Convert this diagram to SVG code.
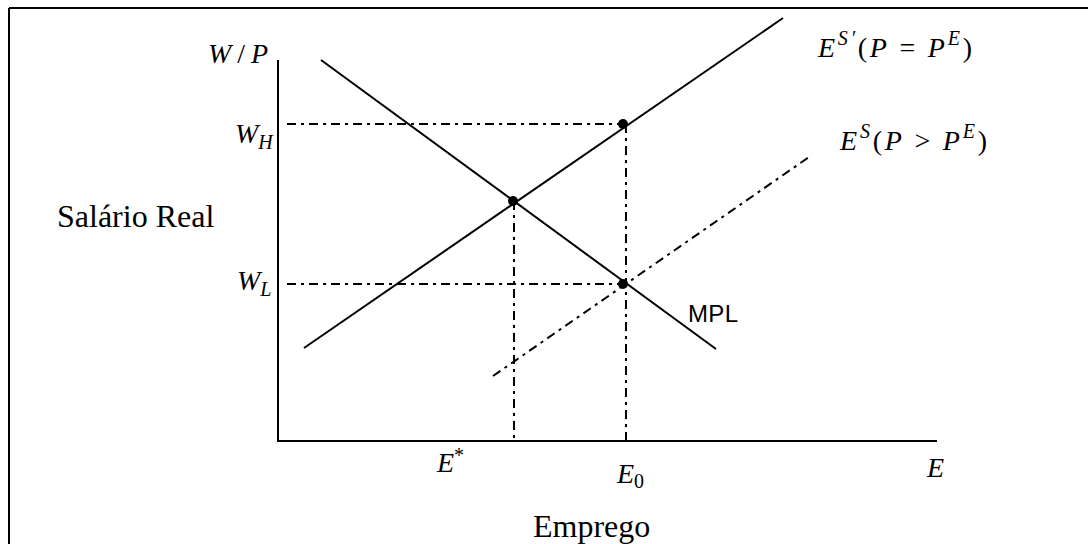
<svg xmlns="http://www.w3.org/2000/svg" width="1088" height="544" viewBox="0 0 1088 544">
<style>
.ln{stroke:#000;stroke-width:2;fill:none}
.dd{stroke:#000;stroke-width:2;fill:none;stroke-dasharray:9 5 3 5}
.m{font-family:"Liberation Serif","Times New Roman",serif;font-style:italic;font-size:28px;fill:#000}
.sm{font-size:20px}
.up{font-style:normal}
.t{font-family:"Liberation Serif","Times New Roman",serif;font-size:32px;fill:#000}
.s{font-family:"Liberation Sans",Arial,sans-serif;font-size:24px;fill:#000}
</style>
<rect width="1088" height="544" fill="#fff"/>
<g id="frame">
<line class="ln" x1="9" y1="8" x2="1088" y2="8"/>
<line class="ln" x1="9" y1="8" x2="9" y2="544"/>
</g>
<g id="axes">
<line class="ln" x1="278" y1="60" x2="278" y2="441"/>
<line class="ln" x1="277" y1="441" x2="937" y2="441"/>
</g>
<g id="connectors">
<line class="dd" x1="287" y1="124" x2="622" y2="124"/>
<line class="dd" x1="287" y1="284" x2="622" y2="284"/>
<line class="dd" x1="514" y1="201" x2="514" y2="441"/>
<line class="dd" x1="626" y1="124" x2="626" y2="441"/>
<line class="dd" x1="493" y1="376" x2="812" y2="155"/>
</g>
<g id="mpl">
<line class="ln" x1="321" y1="60" x2="716" y2="349"/>
<text class="s" x="688" y="322" textLength="50">MPL</text>
</g>
<g id="supply">
<line class="ln" x1="304" y1="348" x2="783" y2="18"/>
</g>
<g id="points">
<circle cx="513" cy="201" r="5"/>
<circle cx="623" cy="124" r="5"/>
<circle cx="623" cy="284" r="5"/>
</g>
<g id="labels">
<text class="m" x="208" y="63" textLength="60" lengthAdjust="spacing">W<tspan class="up"> / </tspan>P</text>
<text class="m" x="235" y="143">W<tspan class="sm" dy="6">H</tspan></text>
<text class="m" x="237" y="290">W<tspan class="sm" dy="6">L</tspan></text>
<text class="m" x="437" y="472">E<tspan class="sm up" dy="-10">*</tspan></text>
<text class="m" x="617" y="483">E<tspan class="sm up" dy="5">0</tspan></text>
<text class="m" x="927" y="477">E</text>
<text class="m" x="818" y="57" textLength="154" lengthAdjust="spacing">E<tspan class="sm" dy="-12">S′</tspan><tspan class="up" dy="12">(</tspan>P<tspan class="up"> = </tspan>P<tspan class="sm" dy="-12">E</tspan><tspan class="up" dy="12">)</tspan></text>
<text class="m" x="840" y="150" textLength="147" lengthAdjust="spacing">E<tspan class="sm" dy="-12">S</tspan><tspan class="up" dy="12">(</tspan>P<tspan class="up"> &gt; </tspan>P<tspan class="sm" dy="-12">E</tspan><tspan class="up" dy="12">)</tspan></text>
<text class="t" x="57" y="227">Salário Real</text>
<text class="t" x="533" y="537">Emprego</text>
</g>
</svg>
